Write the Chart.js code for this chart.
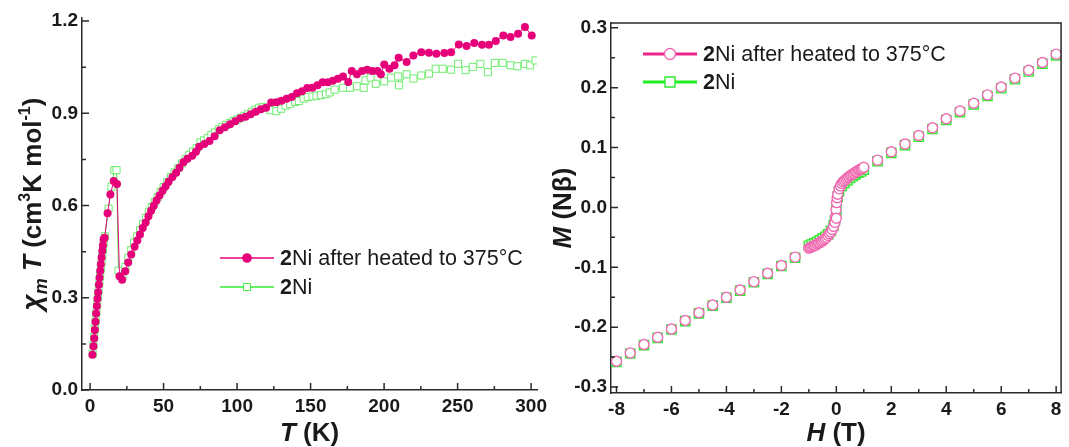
<!DOCTYPE html>
<html>
<head>
<meta charset="utf-8">
<title>2Ni: chi_m T vs T and M vs H</title>
<script src="https://cdn.jsdelivr.net/npm/chart.js@4.4.1/dist/chart.umd.min.js"></script>
<style>
  html, body { margin: 0; padding: 0; background: #fff; }
  body { width: 1069px; height: 447px; position: relative; overflow: hidden; }
  .panel { position: absolute; top: 0; height: 447px; }
  #leftPanel { left: 0; width: 560px; }
  #rightPanel { left: 540px; width: 529px; }
</style>
</head>
<body>
<div class="panel" id="leftPanel"><canvas id="chiTChart"></canvas></div>
<div class="panel" id="rightPanel"><canvas id="mhChart"></canvas></div>
<script>
// ---- chi_m T vs T (left panel) ----
const tempHeated = [1.6, 2.3, 2.8, 3.2, 3.7, 4.1, 4.6, 5.0, 5.5, 6.0, 6.4, 6.9, 7.3, 7.8, 8.3, 8.7, 9.2, 9.9,
  11.9, 13.8, 16.1, 18.3, 20.0, 21.8, 23.9, 25.9, 28.0, 30.3, 32.1, 33.9, 35.8, 37.8, 39.7, 41.5, 43.3, 45.2,
  47.2, 49.3, 51.4, 53.4, 56.0, 58.5, 60.8, 63.5, 66.2, 69.5, 72.0, 74.2, 77.7, 81.2, 84.7, 88.2, 91.7, 95.2,
  98.7, 102.2, 105.7, 109.2, 112.7, 116.2, 119.7, 123.2, 126.7, 130.2, 133.7, 137.2, 140.7, 144.2, 147.7,
  151.2, 154.7, 158.2, 161.7, 165.1, 168.6, 172.1, 175.6, 178.0, 181.5, 185.0, 188.5, 192.0, 195.5, 197.8,
  200.1, 203.6, 207.1, 209.9, 215.3, 219.9, 225.3, 230.5, 235.6, 241.0, 245.6, 250.8, 256.1, 261.3, 266.6,
  271.3, 276.0, 281.1, 286.0, 291.1, 295.8, 300.4];
const chiTHeated = [0.115, 0.142, 0.168, 0.195, 0.222, 0.249, 0.273, 0.297, 0.318, 0.342, 0.365, 0.388, 0.409, 0.431, 0.452, 0.470, 0.490, 0.495,
  0.575, 0.636, 0.680, 0.670, 0.370, 0.359, 0.386, 0.415, 0.441, 0.466, 0.486, 0.506, 0.527, 0.545, 0.565, 0.583, 0.599, 0.616,
  0.633, 0.648, 0.663, 0.677, 0.693, 0.707, 0.723, 0.741, 0.752, 0.762, 0.775, 0.791, 0.800, 0.810, 0.825, 0.845, 0.855, 0.864,
  0.874, 0.884, 0.889, 0.897, 0.905, 0.913, 0.918, 0.935, 0.936, 0.941, 0.947, 0.953, 0.965, 0.972, 0.982,
  0.983, 0.991, 1.001, 1.001, 1.006, 1.012, 1.020, 1.002, 1.038, 1.027, 1.038, 1.042, 1.038, 1.038, 1.027,
  1.059, 1.045, 1.056, 1.081, 1.067, 1.088, 1.099, 1.097, 1.094, 1.096, 1.099, 1.124, 1.119, 1.129, 1.123,
  1.123, 1.135, 1.153, 1.148, 1.159, 1.181, 1.153];

const tempAsMade = [1.8, 2.3, 2.8, 3.3, 3.8, 4.3, 4.8, 5.3, 5.8, 6.3, 6.8, 7.3, 7.8, 8.3, 8.8, 9.3, 10.0,
  12.6, 14.5, 16.5, 18.0, 19.3, 22.0, 24.0, 26.0, 28.0, 30.0, 32.0, 34.0, 36.0, 38.0, 40.0, 42.0, 44.0, 46.0, 48.0,
  50.0, 52.5, 55.0, 57.5, 60.0, 62.5, 65.0, 67.5, 70.0, 72.5, 75.0, 77.5, 80.0, 82.5, 85.0, 87.5, 90.0, 92.5,
  95.0, 97.5, 100.0, 102.5, 105.0, 107.5, 110.0, 112.5, 115.0, 117.5, 120.0, 122.5, 126.7, 130.0, 133.0, 136.0,
  139.5, 142.0, 145.3, 148.0, 151.2, 154.0, 157.0, 160.5, 163.0, 166.3, 172.1, 176.8, 181.5, 186.1, 187.3, 190.8,
  194.3, 200.1, 204.8, 209.5, 210.2, 215.3, 220.0, 225.3, 230.5, 235.1, 239.8, 245.6, 250.3, 255.4, 260.3,
  265.5, 270.6, 275.3, 280.6, 286.0, 290.6, 295.8, 299.3, 303.0];
const chiTAsMade = [0.118, 0.145, 0.172, 0.199, 0.226, 0.253, 0.278, 0.302, 0.324, 0.348, 0.371, 0.394, 0.415, 0.437, 0.458, 0.478, 0.500,
  0.590, 0.661, 0.715, 0.715, 0.388, 0.370, 0.400, 0.430, 0.455, 0.480, 0.500, 0.520, 0.540, 0.560, 0.580, 0.595, 0.612, 0.628, 0.645,
  0.660, 0.677, 0.693, 0.708, 0.722, 0.737, 0.752, 0.765, 0.776, 0.787, 0.805, 0.812, 0.820, 0.830, 0.838, 0.848, 0.856, 0.862,
  0.868, 0.875, 0.880, 0.886, 0.892, 0.898, 0.905, 0.912, 0.918, 0.920, 0.918, 0.910, 0.907, 0.915, 0.925, 0.930,
  0.937, 0.940, 0.948, 0.953, 0.955, 0.957, 0.959, 0.962, 0.968, 0.977, 0.983, 0.983, 0.988, 0.983, 1.007, 1.016,
  0.996, 1.004, 1.016, 1.020, 0.991, 1.027, 1.013, 1.023, 1.029, 1.045, 1.045, 1.042, 1.061, 1.040, 1.051,
  1.061, 1.034, 1.064, 1.064, 1.056, 1.053, 1.061, 1.056, 1.072];

const chiTTicks = [0, 0.3, 0.6, 0.9, 1.2];
const chiTMinor = [0.15, 0.45, 0.75, 1.05];
const tempTicks = [0, 50, 100, 150, 200, 250, 300];
const tempMinor = [25, 75, 125, 175, 225, 275];

// ---- M vs H (right panel) ----
const fieldHeated = [-8, -7.5, -7, -6.5, -6, -5.5, -5, -4.5, -4, -3.5, -3, -2.5, -2, -1.5,
  -1, -0.95, -0.9, -0.85, -0.8, -0.75, -0.7, -0.65, -0.6, -0.55, -0.5, -0.45, -0.4, -0.35, -0.3, -0.25, -0.2, -0.15, -0.1, -0.05,
  -0.03, -0.01, 0.01, 0.03, 0.05, 0.1, 0.15, 0.2, 0.25, 0.3, 0.35, 0.4, 0.45, 0.5, 0.55, 0.6, 0.65, 0.7, 0.75, 0.8, 0.85, 0.9, 0.95, 1,
  1.5, 2, 2.5, 3, 3.5, 4, 4.5, 5, 5.5, 6, 6.5, 7, 7.5, 8, 0.0];
const magHeated = [-0.257, -0.243, -0.229, -0.217, -0.203, -0.189, -0.176, -0.163, -0.150, -0.138, -0.124, -0.110, -0.097, -0.083,
  -0.068, -0.067, -0.066, -0.065, -0.064, -0.063, -0.061, -0.060, -0.059, -0.057, -0.056, -0.054, -0.052, -0.050, -0.047, -0.044, -0.041, -0.037, -0.032, -0.025,
  -0.016, -0.004, 0.008, 0.016, 0.022, 0.031, 0.036, 0.040, 0.043, 0.045, 0.047, 0.049, 0.051, 0.053, 0.054, 0.056, 0.057, 0.059, 0.060, 0.062, 0.063, 0.064, 0.065, 0.067,
  0.079, 0.093, 0.106, 0.120, 0.133, 0.148, 0.161, 0.174, 0.188, 0.201, 0.216, 0.229, 0.242, 0.256, -0.018];

const fieldAsMade = [-8, -7.5, -7, -6.5, -6, -5.5, -5, -4.5, -4, -3.5, -3, -2.5, -2, -1.5,
  -1, -0.9, -0.8, -0.7, -0.6, -0.5, -0.4, -0.3, -0.2, -0.1, -0.05, 0, 0.05, 0.1, 0.2, 0.3, 0.4, 0.5, 0.6, 0.7, 0.8, 0.9, 1,
  1.5, 2, 2.5, 3, 3.5, 4, 4.5, 5, 5.5, 6, 6.5, 7, 7.5, 8];
const magAsMade = [-0.258, -0.244, -0.230, -0.218, -0.204, -0.190, -0.177, -0.164, -0.151, -0.139, -0.125, -0.111, -0.098, -0.084,
  -0.064, -0.062, -0.060, -0.058, -0.055, -0.052, -0.049, -0.045, -0.039, -0.030, -0.022, -0.005, 0.018, 0.027, 0.036, 0.041, 0.045, 0.049, 0.052, 0.055, 0.058, 0.060, 0.063,
  0.077, 0.091, 0.104, 0.118, 0.131, 0.146, 0.159, 0.172, 0.186, 0.199, 0.214, 0.227, 0.240, 0.254];

const magTicks = [-0.3, -0.2, -0.1, 0, 0.1, 0.2, 0.3];
const magMinor = [-0.25, -0.15, -0.05, 0.05, 0.15, 0.25];
const fieldTicks = [-8, -6, -4, -2, 0, 2, 4, 6, 8];
const fieldMinor = [-7, -5, -3, -1, 1, 3, 5, 7];

const seriesNames = ['2Ni after heated to 375°C', '2Ni'];

const FONT = '"Liberation Sans", Arial, sans-serif';
const AXIS_COLOR = '#2a2a2a';

function pairs(xs, ys) {
    return xs.map((x, i) => ({ x: x, y: ys[i] }));
}

// draw a run of differently styled text pieces, centred on (x, y)
function drawRuns(ctx, runs, x, y, angle) {
    ctx.save();
    ctx.translate(x, y);
    ctx.rotate(angle || 0);
    ctx.fillStyle = '#1a1a1a';
    ctx.textAlign = 'left';
    ctx.textBaseline = 'alphabetic';
    let total = 0;
    runs.forEach(r => {
        ctx.font = r.font;
        r.w = ctx.measureText(r.text).width;
        total += r.w;
    });
    let cx = -total / 2;
    runs.forEach(r => {
        ctx.font = r.font;
        ctx.fillText(r.text, cx, r.dy || 0);
        cx += r.w;
    });
    ctx.restore();
}

function drawMarker(ctx, style, x, y) {
    ctx.save();
    ctx.lineWidth = style.border;
    ctx.strokeStyle = style.stroke;
    ctx.fillStyle = style.fill;
    ctx.beginPath();
    if (style.shape === 'circle') {
        ctx.arc(x, y, style.size, 0, Math.PI * 2);
    } else {
        ctx.rect(x - style.size, y - style.size, style.size * 2, style.size * 2);
    }
    ctx.fill();
    if (style.border) ctx.stroke();
    ctx.restore();
}

// inward ticks, minor ticks, box, titles and legend
const paperDecor = {
    id: 'paperDecor',
    afterDraw(chart, args, o) {
        const ctx = chart.ctx;
        const xs = chart.scales.x;
        const ys = chart.scales.y;
        const area = chart.chartArea;
        ctx.save();
        ctx.strokeStyle = AXIS_COLOR;
        ctx.lineWidth = 1.5;
        ctx.beginPath();
        o.xMajor.forEach(v => { const p = xs.getPixelForValue(v); ctx.moveTo(p, area.bottom); ctx.lineTo(p, area.bottom - 7); });
        o.xMinor.forEach(v => { const p = xs.getPixelForValue(v); ctx.moveTo(p, area.bottom); ctx.lineTo(p, area.bottom - 4); });
        o.yMajor.forEach(v => { const p = ys.getPixelForValue(v); ctx.moveTo(area.left, p); ctx.lineTo(area.left + 7, p); });
        o.yMinor.forEach(v => { const p = ys.getPixelForValue(v); ctx.moveTo(area.left, p); ctx.lineTo(area.left + 4, p); });
        ctx.stroke();
        if (o.box) {
            ctx.beginPath();
            ctx.moveTo(area.left, area.top);
            ctx.lineTo(area.right, area.top);
            ctx.lineTo(area.right, area.bottom);
            ctx.stroke();
        }
        ctx.restore();

        drawRuns(ctx, o.xTitle, (area.left + area.right) / 2, o.xTitleY, 0);
        drawRuns(ctx, o.yTitle, o.yTitleX, (area.top + area.bottom) / 2, -Math.PI / 2);

        // legend
        const lg = o.legend;
        seriesNames.forEach((name, i) => {
            const y = lg.y + i * lg.gap;
            const st = lg.styles[i];
            ctx.save();
            ctx.strokeStyle = st.line;
            ctx.lineWidth = st.lineWidth;
            ctx.beginPath();
            ctx.moveTo(lg.x1, y);
            ctx.lineTo(lg.x2, y);
            ctx.stroke();
            ctx.restore();
            drawMarker(ctx, st, (lg.x1 + lg.x2) / 2, y);
            ctx.save();
            ctx.fillStyle = '#1a1a1a';
            ctx.textBaseline = 'middle';
            ctx.font = 'bold ' + lg.size + 'px ' + FONT;
            ctx.fillText(name.slice(0, 1), lg.tx, y + 1);
            const w = ctx.measureText(name.slice(0, 1)).width;
            ctx.font = lg.size + 'px ' + FONT;
            ctx.fillText(name.slice(1), lg.tx + w, y + 1);
            ctx.restore();
        });
    }
};

function axisOptions(min, max, ticks, fmt, size, isX) {
    return {
        type: 'linear',
        min: min,
        max: max,
        grid: { display: false, drawTicks: false },
        border: { display: true, color: AXIS_COLOR, width: 1.5 },
        afterBuildTicks: s => { s.ticks = ticks.map(v => ({ value: v })); },
        afterFit: s => { if (isX) s.height = size; else s.width = size; },
        ticks: {
            color: '#1a1a1a',
            padding: isX ? 5 : 4,
            maxRotation: 0,
            autoSkip: false,
            font: { family: FONT, size: 19, weight: 'bold' },
            callback: fmt
        }
    };
}

const BOLD26 = 'bold 26px ' + FONT;
const BOLDIT26 = 'italic bold 26px ' + FONT;
const SMALL = 'bold 16px ' + FONT;

new Chart(document.getElementById('chiTChart'), {
    type: 'scatter',
    data: {
        datasets: [{
            label: seriesNames[0],
            data: pairs(tempHeated, chiTHeated),
            showLine: true,
            borderColor: '#e5007a',
            borderWidth: 1,
            pointRadius: 4,
            pointBackgroundColor: '#e5007a',
            pointBorderWidth: 0
        }, {
            label: seriesNames[1],
            data: pairs(tempAsMade, chiTAsMade),
            showLine: true,
            borderColor: '#4be84b',
            borderWidth: 1,
            pointStyle: 'rect',
            pointRadius: 5,
            pointBackgroundColor: '#fff',
            pointBorderColor: '#6dec6d',
            pointBorderWidth: 1
        }]
    },
    options: {
        responsive: true,
        maintainAspectRatio: false,
        animation: false,
        layout: { padding: { left: 0, right: 23, top: 18, bottom: 0 } },
        plugins: {
            legend: { display: false },
            tooltip: { enabled: false },
            paperDecor: {
                xMajor: tempTicks, xMinor: tempMinor,
                yMajor: chiTTicks, yMinor: chiTMinor,
                box: false,
                xTitle: [{ text: 'T', font: BOLDIT26 }, { text: ' (K)', font: BOLD26 }],
                xTitleY: 441,
                yTitle: [
                    { text: 'χ', font: 'italic bold 28px ' + FONT },
                    { text: 'm', font: 'italic bold 18px ' + FONT, dy: 6 },
                    { text: ' T', font: BOLDIT26 },
                    { text: ' (cm', font: BOLD26 },
                    { text: '3', font: SMALL, dy: -11 },
                    { text: 'K mol', font: BOLD26 },
                    { text: '-1', font: SMALL, dy: -11 },
                    { text: ')', font: BOLD26 }
                ],
                yTitleX: 41,
                legend: {
                    x1: 220, x2: 274, tx: 280, y: 258, gap: 29, size: 21.5,
                    styles: [
                        { line: '#e5007a', lineWidth: 1.5, shape: 'circle', size: 4.8, fill: '#e5007a', stroke: '#e5007a', border: 0 },
                        { line: '#33ee33', lineWidth: 1.5, shape: 'rect', size: 3.5, fill: '#fff', stroke: '#44ee44', border: 1 }
                    ]
                }
            }
        },
        scales: {
            x: axisOptions(-5.5, 304, tempTicks, v => String(v), 57, true),
            y: axisOptions(0, 1.21, chiTTicks, v => v.toFixed(1), 82, false)
        }
    },
    plugins: [paperDecor]
});

new Chart(document.getElementById('mhChart'), {
    type: 'scatter',
    data: {
        datasets: [{
            label: seriesNames[0],
            data: pairs(fieldHeated, magHeated),
            showLine: false,
            pointRadius: 5,
            pointBackgroundColor: '#fff',
            pointBorderColor: '#f06ab2',
            pointBorderWidth: 1.4
        }, {
            label: seriesNames[1],
            data: pairs(fieldAsMade, magAsMade),
            showLine: false,
            pointStyle: 'rect',
            pointRadius: 6.5,
            pointBackgroundColor: '#fff',
            pointBorderColor: '#2ee82e',
            pointBorderWidth: 1.4
        }]
    },
    options: {
        responsive: true,
        maintainAspectRatio: false,
        animation: false,
        layout: { padding: { left: 0, right: 5, top: 23, bottom: 0 } },
        plugins: {
            legend: { display: false },
            tooltip: { enabled: false },
            paperDecor: {
                xMajor: fieldTicks, xMinor: fieldMinor,
                yMajor: magTicks, yMinor: magMinor,
                box: true,
                xTitle: [{ text: 'H', font: BOLDIT26 }, { text: ' (T)', font: BOLD26 }],
                xTitleY: 441,
                yTitle: [{ text: 'M', font: BOLDIT26 }, { text: ' (Nβ)', font: BOLD26 }],
                yTitleX: 31,
                legend: {
                    x1: 103, x2: 157, tx: 163, y: 54, gap: 28, size: 21.5,
                    styles: [
                        { line: '#e8268c', lineWidth: 3, shape: 'circle', size: 5.5, fill: '#fff', stroke: '#f06ab2', border: 1.4 },
                        { line: '#22ee22', lineWidth: 3, shape: 'rect', size: 5, fill: '#fff', stroke: '#2ee82e', border: 1.4 }
                    ]
                }
            }
        },
        scales: {
            x: axisOptions(-8.2, 8.18, fieldTicks, v => String(v), 54, true),
            y: axisOptions(-0.31, 0.308, magTicks, v => v.toFixed(1), 71, false)
        }
    },
    plugins: [paperDecor]
});
</script>
</body>
</html>
